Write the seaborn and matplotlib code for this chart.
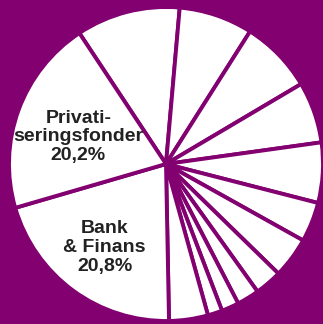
import numpy as np
import matplotlib
matplotlib.use("Agg")
import matplotlib.pyplot as plt
import seaborn as sns

# Sector shares in percent, clockwise from the upper-left wedge
sectors = ["Övrigt 1", "Övrigt 2", "Övrigt 3", "Övrigt 4", "Övrigt 5", "Övrigt 6",
           "Övrigt 7", "Övrigt 8", "Övrigt 9", "Övrigt 10", "Övrigt 11", "Övrigt 12",
           "Bank\n& Finans", "Privati-\nseringsfonder"]
shares = [10.7, 7.6, 7.5, 6.3, 6.2, 4.1, 4.2, 2.8, 2.3, 1.8, 1.5, 4.0, 20.8, 20.2]
labelled = ["Bank\n& Finans", "Privati-\nseringsfonder"]

sns.set_theme(style="white")
plt.rcParams["font.family"] = ["Liberation Sans", "DejaVu Sans"]

purple = "#820070"
W, H = 323, 324
fig = plt.figure(figsize=(W / 100, H / 100), dpi=100, facecolor=purple)
ax = fig.add_axes([0, 0, 1, 1])
ax.set_facecolor(purple)

wedges, _ = ax.pie(shares, startangle=123.5, counterclock=False,
                   colors=["white"] * len(shares),
                   wedgeprops=dict(edgecolor=purple, linewidth=2.8))

# pixel layout of the disc
cx, cy, rad = 166, 164, 157
ax.set_xlim(-cx / rad, (W - cx) / rad)
ax.set_ylim(-(H - cy) / rad, cy / rad)
ax.set_aspect("equal")
ax.axis("off")

# label placement: radius fraction and angular nudge from the wedge middle
label_pos = {"Bank\n& Finans": (0.66, 0.0), "Privati-\nseringsfonder": (0.585, 2.8)}
for w, name, val in zip(wedges, sectors, shares):
    if name not in labelled:
        continue
    r, nudge = label_pos[name]
    mid = np.deg2rad((w.theta1 + w.theta2) / 2 + nudge)
    txt = f"{name}\n{val:.1f}%".replace(".", ",")
    ax.text(r * np.cos(mid), r * np.sin(mid), txt, ha="center", va="center",
            fontsize=14, fontweight="bold", color="#222222", linespacing=1.12)

fig.savefig("out.png", dpi=100, facecolor=purple)
